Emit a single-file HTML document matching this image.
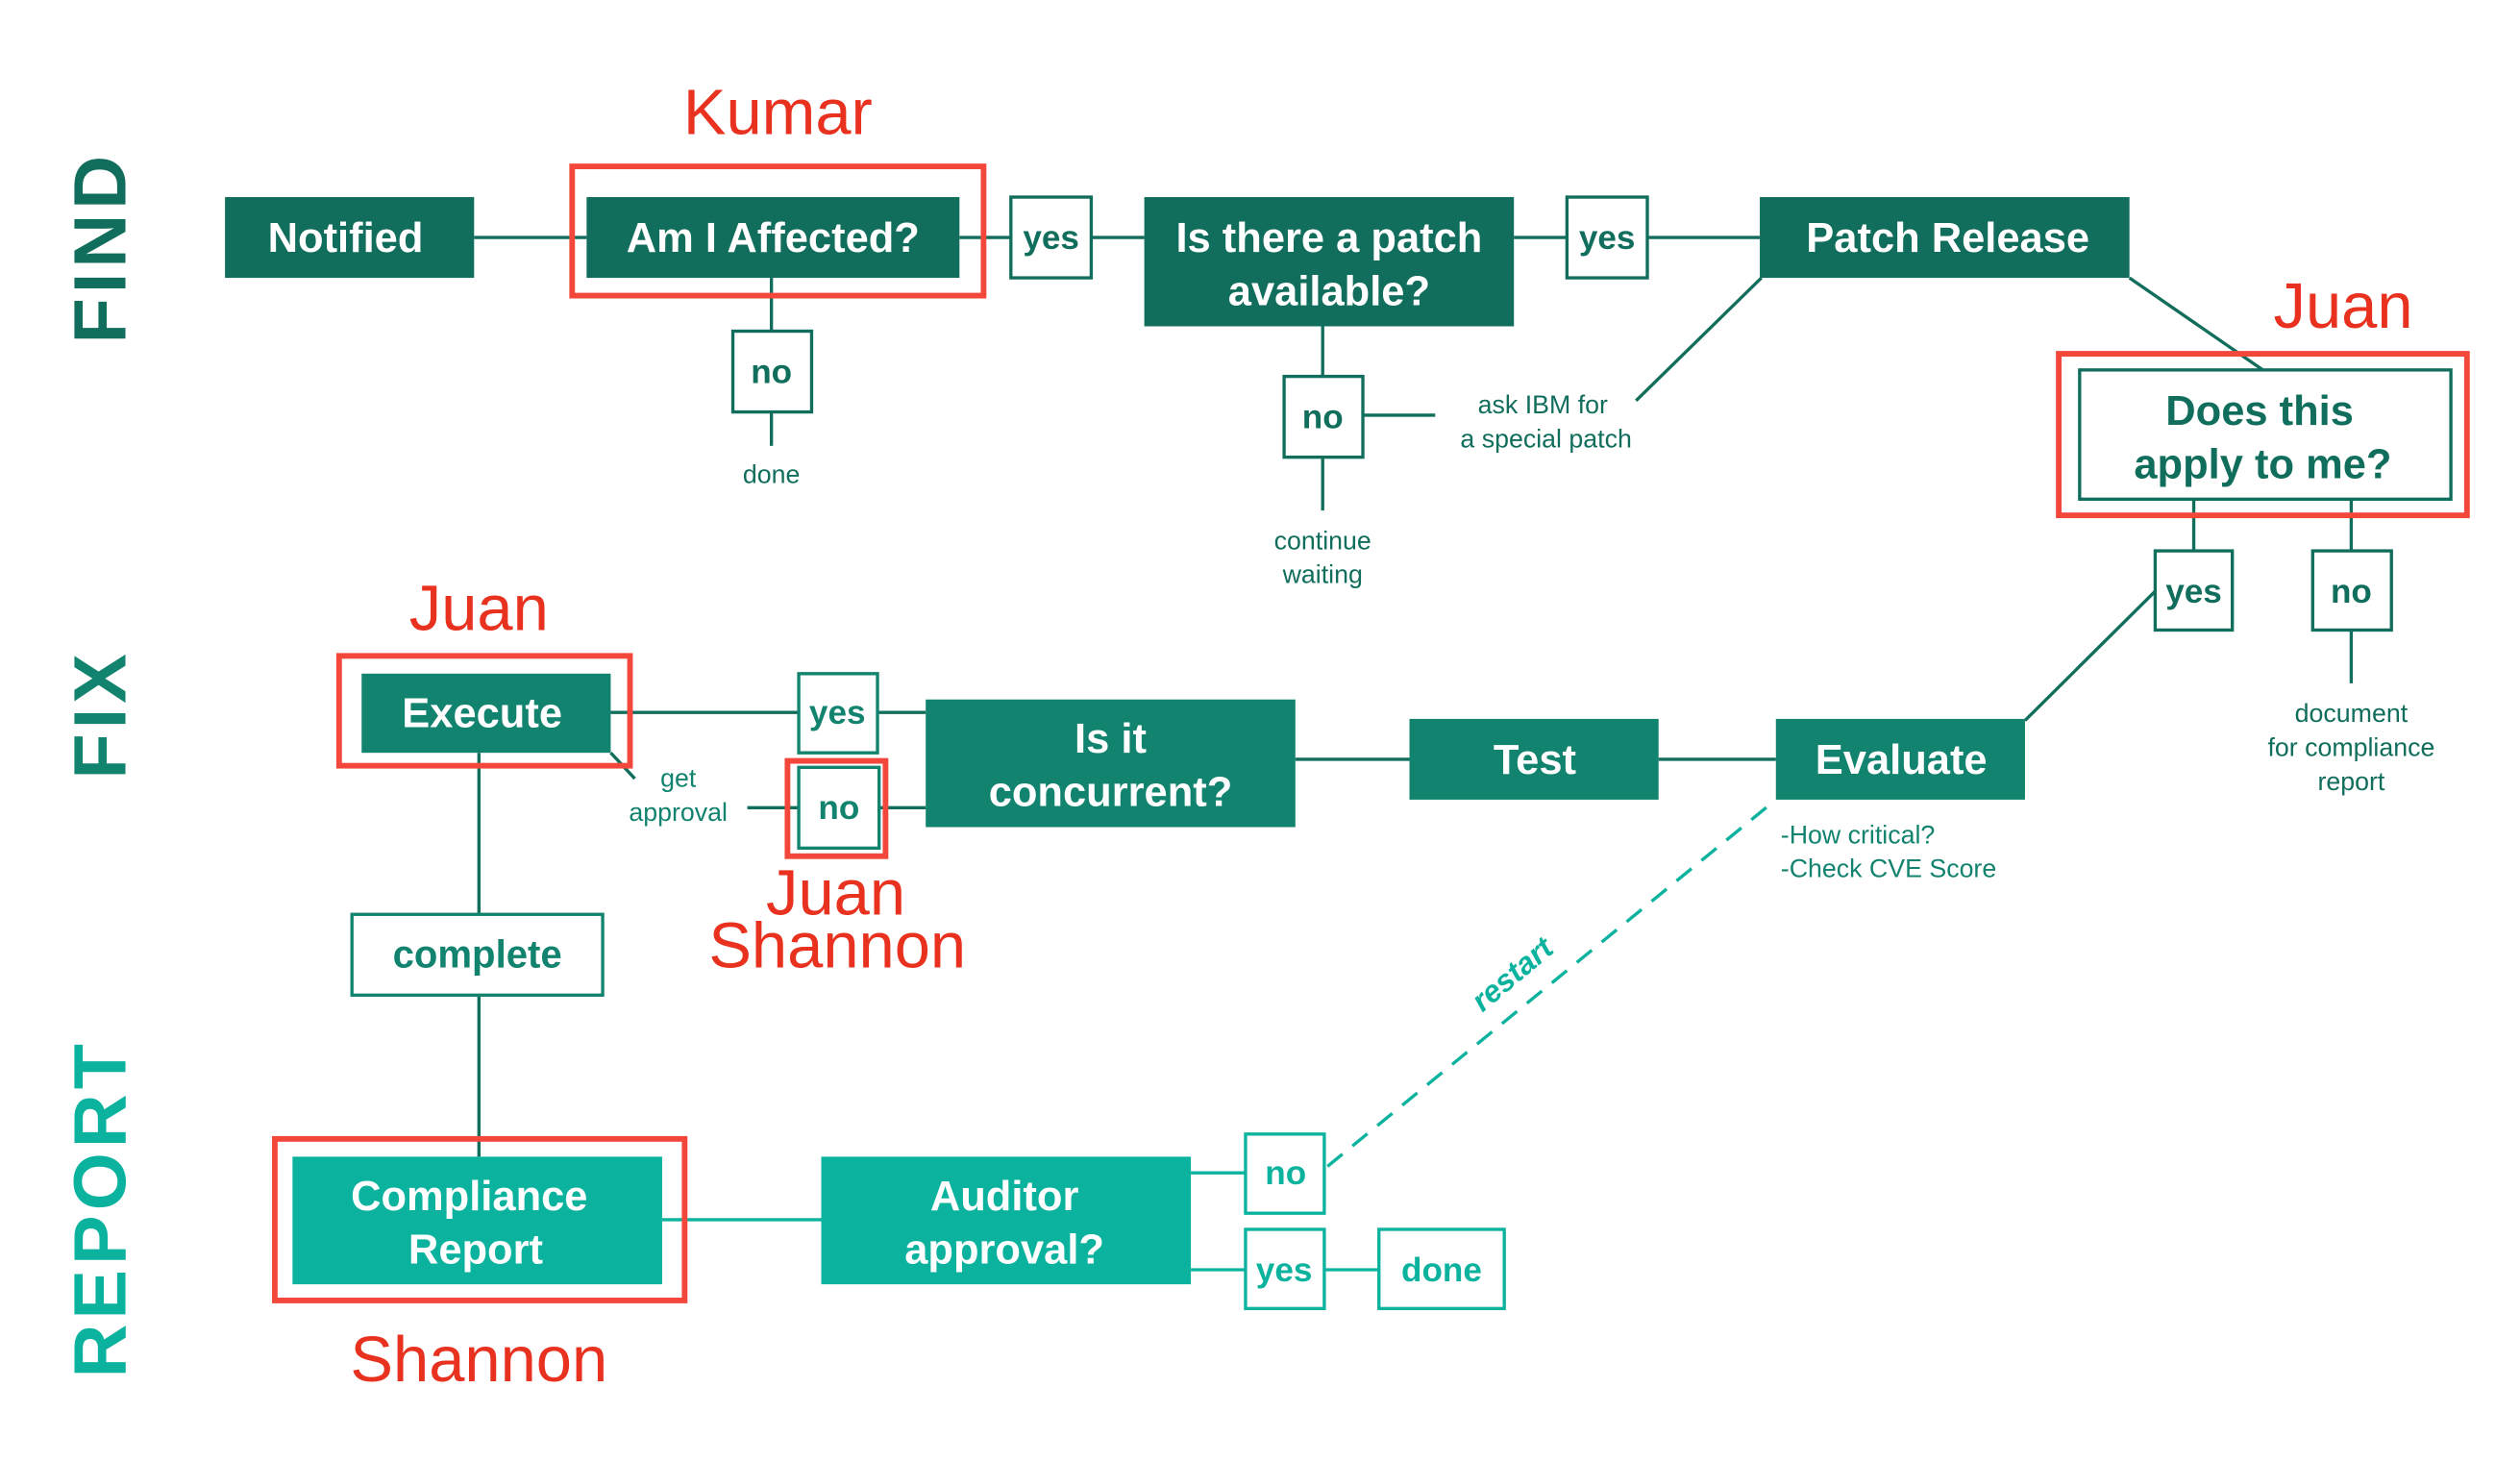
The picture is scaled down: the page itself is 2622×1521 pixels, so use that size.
<!DOCTYPE html>
<html><head><meta charset="utf-8"><style>html,body{margin:0;padding:0;background:#fff}svg{display:block}</style></head>
<body>
<svg width="2622" height="1521" viewBox="0 0 1568 905" preserveAspectRatio="none" xmlns="http://www.w3.org/2000/svg" font-family="Liberation Sans, sans-serif">
<rect width="1568" height="905" fill="#fff"/>
<text transform="translate(78,153) rotate(-90)" text-anchor="middle" font-size="46" font-weight="bold" fill="#116e5c" letter-spacing="3">FIND</text>
<text transform="translate(78,442) rotate(-90)" text-anchor="middle" font-size="46" font-weight="bold" fill="#12836e" letter-spacing="3">FIX</text>
<text transform="translate(78,748) rotate(-90)" text-anchor="middle" font-size="46" font-weight="bold" fill="#0bb39e" letter-spacing="3">REPORT</text>

<g stroke="#116e5c" stroke-width="2" fill="none">
<line x1="295" y1="147" x2="365" y2="147"/>
<line x1="597" y1="147" x2="629" y2="147"/>
<line x1="679" y1="147" x2="712" y2="147"/>
<line x1="942" y1="147" x2="975" y2="147"/>
<line x1="1025" y1="147" x2="1095" y2="147"/>
<line x1="480" y1="172" x2="480" y2="205"/>
<line x1="480" y1="255" x2="480" y2="276"/>
<line x1="823" y1="202" x2="823" y2="233"/>
<line x1="823" y1="283" x2="823" y2="316"/>
<line x1="848" y1="257" x2="893" y2="257"/>
<line x1="1018" y1="248" x2="1096" y2="172"/>
<line x1="1325" y1="172" x2="1408" y2="229"/>
<line x1="1365" y1="309" x2="1365" y2="341"/>
<line x1="1463" y1="309" x2="1463" y2="341"/>
<line x1="1463" y1="390" x2="1463" y2="423"/>
<line x1="1341" y1="366" x2="1260" y2="446"/>
<line x1="1032" y1="470" x2="1105" y2="470"/>
<line x1="806" y1="470" x2="877" y2="470"/>
<line x1="380" y1="441" x2="497" y2="441"/>
<line x1="546" y1="441" x2="576" y2="441"/>
<line x1="547" y1="500" x2="576" y2="500"/>
<line x1="465" y1="500" x2="497" y2="500"/>
<line x1="380" y1="466" x2="395" y2="482"/>
<line x1="298" y1="466" x2="298" y2="566"/>
<line x1="298" y1="616" x2="298" y2="716"/>
</g>
<g stroke="#0bb39e" stroke-width="2" fill="none">
<line x1="412" y1="755" x2="511" y2="755"/>
<line x1="741" y1="726" x2="775" y2="726"/>
<line x1="741" y1="786" x2="775" y2="786"/>
<line x1="824" y1="786" x2="858" y2="786"/>
<line x1="826" y1="722" x2="1105" y2="495" stroke-dasharray="12,8"/>
</g>

<g fill="#116e5c">
<rect x="140" y="122" width="155" height="50"/>
<rect x="365" y="122" width="232" height="50"/>
<rect x="712" y="122" width="230" height="80"/>
<rect x="1095" y="122" width="230" height="50"/>
</g>
<g fill="#12836e">
<rect x="225" y="417" width="155" height="49"/>
<rect x="576" y="433" width="230" height="79"/>
<rect x="877" y="445" width="155" height="50"/>
<rect x="1105" y="445" width="155" height="50"/>
</g>
<g fill="#0bb39e">
<rect x="182" y="716" width="230" height="79"/>
<rect x="511" y="716" width="230" height="79"/>
</g>

<g fill="#fff" stroke="#116e5c" stroke-width="2">
<rect x="629" y="122" width="50" height="50"/>
<rect x="975" y="122" width="50" height="50"/>
<rect x="456" y="205" width="49" height="50"/>
<rect x="799" y="233" width="49" height="50"/>
<rect x="1294" y="229" width="231" height="80"/>
<rect x="1341" y="341" width="48" height="49"/>
<rect x="1439" y="341" width="49" height="49"/>
</g>
<g fill="#fff" stroke="#12836e" stroke-width="2">
<rect x="497" y="417" width="49" height="49"/>
<rect x="497" y="475" width="50" height="50"/>
<rect x="219" y="566" width="156" height="50"/>
</g>
<g fill="#fff" stroke="#0bb39e" stroke-width="2">
<rect x="775" y="702" width="49" height="49"/>
<rect x="775" y="761" width="49" height="49"/>
<rect x="858" y="761" width="78" height="49"/>
</g>

<g fill="none" stroke="#f2473a" stroke-width="3.5">
<rect x="356" y="103" width="256" height="80"/>
<rect x="1281" y="219" width="254" height="100"/>
<rect x="211" y="406" width="181" height="68"/>
<rect x="490" y="471" width="61" height="59"/>
<rect x="171" y="705" width="255" height="100"/>
</g>

<g font-weight="bold" font-size="26" fill="#fff" text-anchor="middle">
<text x="215" y="156">Notified</text>
<text x="481" y="156">Am I Affected?</text>
<text x="827" y="156">Is there a patch</text>
<text x="827" y="189">available?</text>
<text x="1212" y="156">Patch Release</text>
<text x="300" y="450">Execute</text>
<text x="691" y="466">Is it</text>
<text x="691" y="499">concurrent?</text>
<text x="955" y="479">Test</text>
<text x="1183" y="479">Evaluate</text>
<text x="292" y="749">Compliance</text>
<text x="296" y="782">Report</text>
<text x="625" y="749">Auditor</text>
<text x="625" y="782">approval?</text>
</g>
<g font-weight="bold" font-size="21" fill="#116e5c" text-anchor="middle">
<text x="654" y="154">yes</text>
<text x="1000" y="154">yes</text>
<text x="480" y="237">no</text>
<text x="823" y="265">no</text>
<text x="1365" y="373">yes</text>
<text x="1463" y="373">no</text>
<text x="1406" y="263" font-size="26">Does this</text>
<text x="1408" y="296" font-size="26">apply to me?</text>
</g>
<g font-weight="bold" font-size="21" fill="#12836e" text-anchor="middle">
<text x="521" y="448">yes</text>
<text x="522" y="507">no</text>
<text x="297" y="599" font-size="24">complete</text>
</g>
<g font-weight="bold" font-size="21" fill="#0bb39e" text-anchor="middle">
<text x="800" y="733">no</text>
<text x="799" y="793">yes</text>
<text x="897" y="793">done</text>
</g>

<g font-size="16" fill="#116e5c" text-anchor="middle">
<text x="480" y="299">done</text>
<text x="823" y="340">continue</text>
<text x="823" y="361">waiting</text>
<text x="960" y="256">ask IBM for</text>
<text x="962" y="277">a special patch</text>
<text x="1463" y="447">document</text>
<text x="1463" y="468">for compliance</text>
<text x="1463" y="489">report</text>
</g>
<g font-size="16" fill="#12836e">
<text x="422" y="487" text-anchor="middle">get</text>
<text x="422" y="508" text-anchor="middle">approval</text>
<text x="1108" y="522">-How critical?</text>
<text x="1108" y="543">-Check CVE Score</text>
</g>
<text transform="translate(945,608) rotate(-40)" text-anchor="middle" font-size="19" font-style="italic" font-weight="bold" fill="#0bb39e">restart</text>

<g font-size="40" fill="#e8321f" text-anchor="middle">
<text x="484" y="83">Kumar</text>
<text x="1458" y="203">Juan</text>
<text x="298" y="390">Juan</text>
<text x="520" y="566">Juan</text>
<text x="521" y="599">Shannon</text>
<text x="298" y="855">Shannon</text>
</g>
</svg>
</body></html>
